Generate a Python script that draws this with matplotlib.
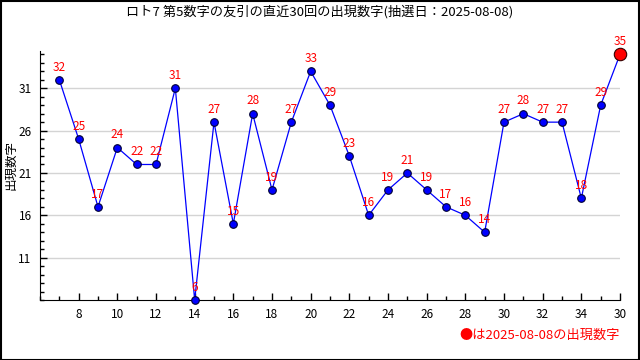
import matplotlib.pyplot as plt
from matplotlib.ticker import MultipleLocator, FixedLocator

plt.rcParams['font.family'] = ['Noto Sans CJK JP', 'DejaVu Sans']

# draw index (x) and the 5th number of each draw
draws = [7, 8, 9, 10, 11, 12, 13, 14, 15, 16, 17, 18, 19, 20, 21,
         22, 23, 24, 25, 26, 27, 28, 29, 30, 31, 32, 33, 34, 35, 36]
numbers = [32, 25, 17, 24, 22, 22, 31, 6, 27, 15, 28, 19, 27, 33, 29,
           23, 16, 19, 21, 19, 17, 16, 14, 27, 28, 27, 27, 18, 29, 35]

x_ticks = [8, 10, 12, 14, 16, 18, 20, 22, 24, 26, 28, 30, 32, 34, 36]
x_tick_labels = ['8', '10', '12', '14', '16', '18', '20', '22', '24', '26',
                 '28', '30', '32', '34', '30']
y_ticks = [11, 16, 21, 26, 31]

title = 'ロト7 第5数字の友引の直近30回の出現数字(抽選日：2025-08-08)'
note = '●は2025-08-08の出現数字'

fig = plt.figure(figsize=(6.4, 3.6), dpi=100)
ax = fig.add_axes([40/640, 60/360, 580/640, 249/360])

ax.set_xlim(6, 36)
ax.set_ylim(6, 35.4)

# grid
for y in y_ticks:
    ax.axhline(y, color='#d4d4d4', lw=1, zorder=0)

ax.plot(draws, numbers, color='blue', lw=0.9, zorder=2)
ax.scatter(draws[:-1], numbers[:-1], s=30, color='blue', edgecolor='#000033',
           linewidth=0.8, zorder=3, clip_on=False)
ax.scatter(draws[-1:], numbers[-1:], s=80, color='red', edgecolor='#330000',
           linewidth=0.8, zorder=3, clip_on=False)

for x, v in zip(draws, numbers):
    ax.annotate(str(v), (x, v), xytext=(0, 4.5), textcoords='offset points',
                ha='center', va='bottom', color='red', fontsize=8.5, zorder=4)

ax.spines['top'].set_visible(False)
ax.spines['right'].set_visible(False)

ax.xaxis.set_major_locator(FixedLocator(x_ticks))
ax.set_xticklabels(x_tick_labels)
ax.xaxis.set_minor_locator(MultipleLocator(1))
ax.yaxis.set_major_locator(FixedLocator(y_ticks))
ax.yaxis.set_minor_locator(MultipleLocator(1))
ax.tick_params(axis='both', which='major', direction='in', length=5, width=1,
               labelsize=8.5, pad=6)
ax.tick_params(axis='both', which='minor', direction='in', length=3, width=1)

fig.text(11/640, 1 - 165/360, '出現数字', rotation=90, ha='center', va='center',
         fontsize=9)
fig.text(0.5, 1 - 12/360, title, ha='center', va='center', fontsize=9.5)
fig.text(620/640, 1 - 335/360, note, ha='right', va='center', color='red', fontsize=9.5)

# outer frame
fig.patches.append(plt.Rectangle((0.5/640, 0.5/360), 638.5/640, 358.5/360,
                                 transform=fig.transFigure, fill=False,
                                 edgecolor='black', lw=1.5))

fig.savefig('out.png', dpi=100)
